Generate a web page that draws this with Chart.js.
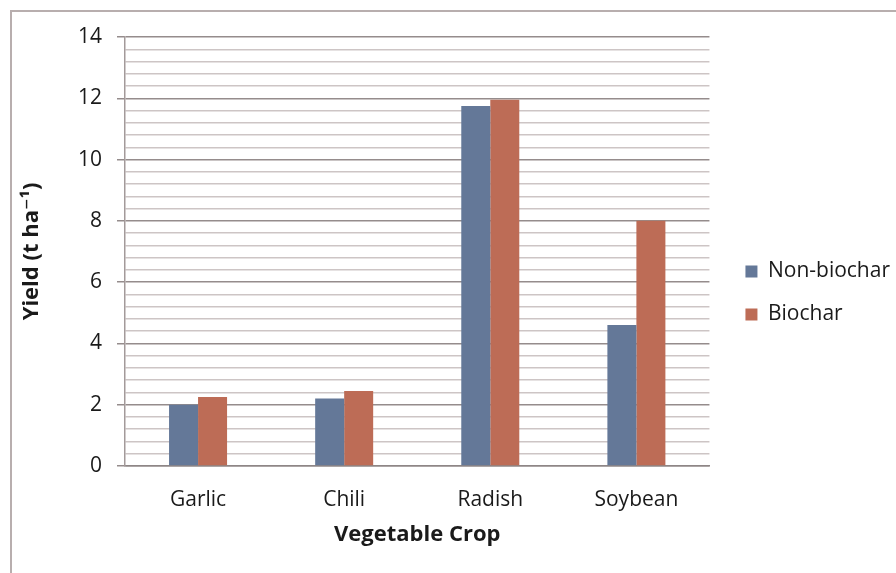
<!DOCTYPE html>
<html>
<head>
<meta charset="utf-8">
<script src="https://cdn.jsdelivr.net/npm/chart.js@4/dist/chart.umd.min.js"></script>
<style>
  html, body { margin: 0; padding: 0; background: #fff; }
  #wrap { position: relative; width: 896px; height: 573px; overflow: hidden; }
  #frame { position: absolute; left: 10px; top: 10px; right: -10px; bottom: -10px;
           border-top: 2px solid #b8aeae; border-left: 2px solid #b8aeae; pointer-events: none; }
  canvas { position: absolute; left: 0; top: 0; }
</style>
</head>
<body>
<div id="wrap">
  <canvas id="chart" width="896" height="573"></canvas>
  <div id="frame"></div>
</div>
<script>
// Crop yields (t/ha) with and without biochar
const crops = ['Garlic', 'Chili', 'Radish', 'Soybean'];
const nonBiochar = [2.0, 2.2, 11.75, 4.6];
const biochar = [2.25, 2.45, 11.95, 8.0];
const seriesNames = ['Non-biochar', 'Biochar'];

const yMin = 0;
const yMax = 14;
const yMajorStep = 2;
const yMinorStep = 0.4;

const FONT = "'Open Sans', 'DejaVu Sans', sans-serif";
const isMajor = v => Math.abs(v / yMajorStep - Math.round(v / yMajorStep)) < 1e-6;

// shifts the legend block right, leaving more white space beside the plot
const legendShift = {
  id: 'legendShift',
  afterLayout(chart) {
    const lg = chart.legend;
    if (lg) { lg.left += 14; lg.right += 14; }
  }
};

new Chart(document.getElementById('chart'), {
  type: 'bar',
  data: {
    labels: crops,
    datasets: [
      { label: seriesNames[0], data: nonBiochar, backgroundColor: '#647898' },
      { label: seriesNames[1], data: biochar, backgroundColor: '#bd6c56' }
    ]
  },
  options: {
    responsive: false,
    animation: false,
    devicePixelRatio: 1,
    layout: { padding: { top: 13, left: 0, right: 10, bottom: 0 } },
    datasets: { bar: { categoryPercentage: 0.397, barPercentage: 1.0 } },
    plugins: {
      tooltip: { enabled: false },
      legend: {
        position: 'right',
        labels: {
          font: { family: FONT, size: 21 },
          color: '#1a1a1a',
          boxWidth: 12,
          boxHeight: 12,
          padding: 22
        }
      }
    },
    scales: {
      x: {
        grid: { display: false },
        border: { display: true, color: '#8e8686', width: 1.5 },
        ticks: { font: { family: FONT, size: 21 }, color: '#1a1a1a', padding: 13, maxRotation: 0 },
        title: {
          display: true,
          text: 'Vegetable Crop',
          font: { family: FONT, size: 22, weight: 'bold' },
          color: '#1a1a1a',
          padding: { top: 0, bottom: 25 }
        },
        afterFit(scale) { scale.height = 107; }
      },
      y: {
        min: yMin,
        max: yMax,
        grid: {
          color: ctx => isMajor(ctx.tick.value) ? '#958c8c' : '#cdc5c5',
          tickColor: ctx => isMajor(ctx.tick.value) ? '#958c8c' : 'rgba(0,0,0,0)',
          lineWidth: 1.5,
          tickLength: 8
        },
        border: { display: true, color: '#a39a9a', width: 1.5 },
        ticks: {
          stepSize: yMinorStep,
          autoSkip: false,
          padding: 15,
          font: { family: FONT, size: 21 },
          color: '#1a1a1a',
          callback: v => isMajor(v) ? String(Math.round(v)) : ''
        },
        title: {
          display: true,
          text: 'Yield (t ha\u207B\u00B9)',
          font: { family: FONT, size: 22, weight: 'bold' },
          color: '#1a1a1a',
          padding: { top: 19, bottom: 0 }
        },
        afterFit(scale) { scale.width = 125; scale.paddingTop = 37; }
      }
    }
  },
  plugins: [legendShift]
});
</script>
</body>
</html>
